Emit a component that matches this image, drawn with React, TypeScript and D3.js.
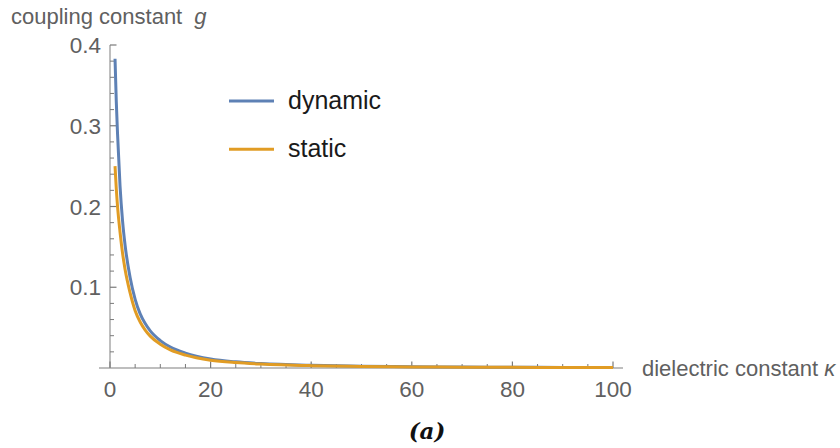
import React from "react";
import * as d3 from "d3";

const kappa = [1, 1.25, 1.5, 2, 2.5, 3, 4, 5, 6, 7, 8, 10, 12, 15, 20, 25, 30, 40, 50, 60, 70, 80, 90, 100];
const dynamicG = [0.383, 0.33, 0.29, 0.225, 0.182, 0.152, 0.112, 0.085, 0.067, 0.055, 0.046, 0.034, 0.026, 0.0185, 0.0112, 0.0076, 0.0055, 0.0033, 0.0022, 0.0016, 0.0012, 0.00092, 0.00073, 0.0006];
const staticG = [0.25, 0.222, 0.2, 0.168, 0.142, 0.122, 0.093, 0.071, 0.057, 0.047, 0.0395, 0.0295, 0.0225, 0.016, 0.0097, 0.0067, 0.0049, 0.0029, 0.0019, 0.00136, 0.00102, 0.0008, 0.00063, 0.00051];
const xTicks = [0, 20, 40, 60, 80, 100];
const yTicks = [0.1, 0.2, 0.3, 0.4];
const seriesNames = ["dynamic", "static"];
const colors = ["#5E81B5", "#E19C24"];

export default function App() {
  const W = 840, H = 448;
  const x = d3.scaleLinear().domain([0, 100]).range([110, 613]);
  const y = d3.scaleLinear().domain([0, 0.4]).range([368, 45]);
  const xMinor = d3.range(0, 101, 5).filter((v) => v % 20 !== 0);
  const yMinor = d3.range(0.02, 0.4, 0.02).filter((v) => Math.abs(Math.round(v * 10) - v * 10) > 1e-6);
  const line = d3
    .line<number>()
    .x((_, i) => x(kappa[i]))
    .y((d) => y(d))
    .curve(d3.curveMonotoneX);
  const font = "'Liberation Sans', Arial, sans-serif";
  const axisColor = "#a8a8a8";
  const tickColor = "#7a7a7a";
  const labelColor = "#606060";
  return (
    <svg width={W} height={H} style={{ position: "absolute", left: 0, top: 0 }} fontFamily={font}>
      <rect width={W} height={H} fill="#fff" />
      {/* axes */}
      <line x1={99} x2={623} y1={y(0)} y2={y(0)} stroke={axisColor} strokeWidth={1.5} />
      <line x1={x(0)} x2={x(0)} y1={y(0.4)} y2={y(0)} stroke={axisColor} strokeWidth={1.5} />
      {xTicks.map((t) => (
        <g key={"xt" + t}>
          <line x1={x(t)} x2={x(t)} y1={y(0)} y2={y(0) - 6.5} stroke={tickColor} strokeWidth={1.2} />
          <text x={x(t)} y={396.5} textAnchor="middle" fontSize={22.5} fill={labelColor}>
            {t}
          </text>
        </g>
      ))}
      {xMinor.map((t) => (
        <line key={"xm" + t} x1={x(t)} x2={x(t)} y1={y(0)} y2={y(0) - 4} stroke={tickColor} strokeWidth={1} />
      ))}
      {yTicks.map((t) => (
        <g key={"yt" + t}>
          <line x1={x(0)} x2={x(0) + 6.5} y1={y(t)} y2={y(t)} stroke={tickColor} strokeWidth={1.2} />
          <text x={101} y={y(t) + 8} textAnchor="end" fontSize={22.5} fill={labelColor}>
            {t.toFixed(1)}
          </text>
        </g>
      ))}
      {yMinor.map((t) => (
        <line key={"ym" + t} x1={x(0)} x2={x(0) + 4} y1={y(t)} y2={y(t)} stroke={tickColor} strokeWidth={1} />
      ))}
      {/* curves */}
      <path d={line(dynamicG) || ""} fill="none" stroke={colors[0]} strokeWidth={3} />
      <path d={line(staticG) || ""} fill="none" stroke={colors[1]} strokeWidth={3} />
      {/* axis labels */}
      <text x={11} y={24} fontSize={22} fill={labelColor}>
        coupling constant <tspan dx={6} fontStyle="italic">g</tspan>
      </text>
      <text x={642} y={376} fontSize={22} fill={labelColor}>
        dielectric constant <tspan fontStyle="italic">κ</tspan>
      </text>
      {/* legend */}
      {seriesNames.map((s, i) => (
        <g key={s}>
          <line x1={229} x2={274} y1={101 + i * 48.3} y2={101 + i * 48.3} stroke={colors[i]} strokeWidth={3} />
          <text x={288} y={108.5 + i * 48.3} fontSize={25} fill="#1a1a1a">
            {s}
          </text>
        </g>
      ))}
      <text x={427} y={439} textAnchor="middle" fontSize={23} fontWeight="bold" fontStyle="italic" fontFamily="'DejaVu Serif', serif" fill="#111">
        (a)
      </text>
    </svg>
  );
}
